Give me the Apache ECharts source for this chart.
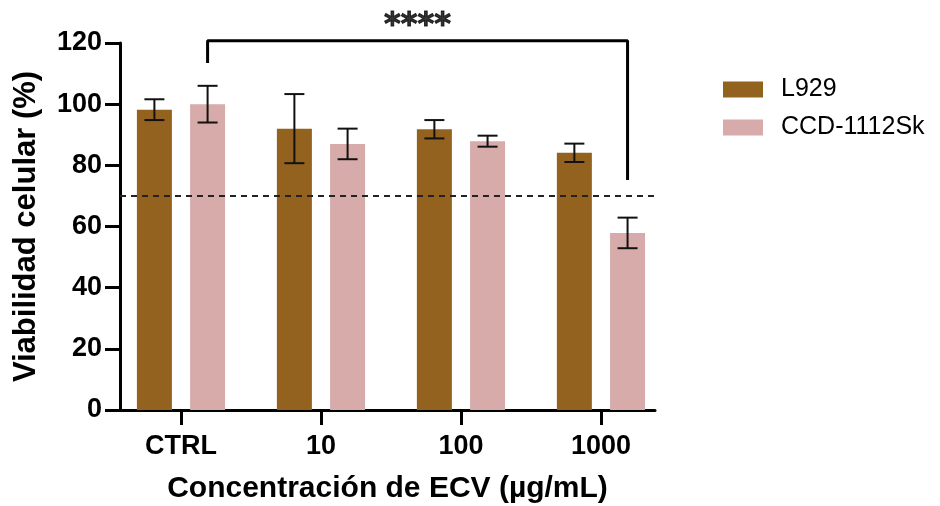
<!DOCTYPE html>
<html>
<head>
<meta charset="utf-8">
<script src="https://cdn.jsdelivr.net/npm/echarts@6/dist/echarts.min.js"></script>
<style>
  html, body { margin: 0; padding: 0; background: #fff; }
  #chart { width: 940px; height: 506px; }
</style>
</head>
<body>
<div id="chart"></div>
<script>
// categorias y valores
const categories = ['CTRL', '10', '100', '1000'];
const l929Mean = [98.2, 92.0, 91.8, 84.1];
const l929Err = [3.4, 11.3, 3.0, 3.0];
const ccdMean = [100.0, 87.0, 87.9, 57.9];
const ccdErr = [6.0, 5.0, 1.8, 5.0];
const threshold = 70;
// corchete de significancia: desde CTRL (CCD) hasta 1000 (CCD)
const bracketFrom = 0, bracketTo = 3;
const bracketY = [113.5, 120.7, 75.2];
const signif = '****';
const signifY = 125.5;

const brown = '#94621F';
const pink = '#D6ABAA';
const font = '"Liberation Sans", Arial, sans-serif';
const OFF = 0.19; // desplazamiento de cada barra respecto al centro de la categoria

let chart = echarts.init(document.getElementById('chart'));

function errorItem(params, api) {
  let x = api.value(0), y = api.value(1), e = api.value(2);
  let top = api.coord([x, y + e]);
  let bot = api.coord([x, y - e]);
  let hw = 10;
  let st = { stroke: '#111', lineWidth: 2 };
  return {
    type: 'group',
    children: [
      { type: 'line', shape: { x1: top[0], y1: top[1], x2: bot[0], y2: bot[1] }, style: st },
      { type: 'line', shape: { x1: top[0] - hw, y1: top[1], x2: top[0] + hw, y2: top[1] }, style: st },
      { type: 'line', shape: { x1: bot[0] - hw, y1: bot[1], x2: bot[0] + hw, y2: bot[1] }, style: st }
    ]
  };
}

let catIdx = categories.map((c, i) => i);

let option = {
  animation: false,
  textStyle: { fontFamily: font },
  grid: { left: 120, right: 285, top: 43, bottom: 96, outerBoundsMode: 'none', containLabel: false },
  legend: {
    data: ['L929', 'CCD-1112Sk'],
    orient: 'vertical',
    left: 718,
    top: 72,
    icon: 'rect',
    itemWidth: 40,
    itemHeight: 16,
    itemGap: 13,
    textStyle: { fontSize: 25, color: '#000', fontFamily: font, padding: [0, 0, 0, 13] }
  },
  xAxis: {
    type: 'value',
    min: -0.4357,
    max: 3.386,
    splitLine: { show: false },
    axisLine: { show: true, onZero: false, lineStyle: { color: '#000', width: 3 } },
    axisTick: { show: true, customValues: catIdx, length: 15, lineStyle: { color: '#000', width: 3 } },
    axisLabel: {
      customValues: catIdx,
      formatter: v => categories[Math.round(v)],
      color: '#000', fontSize: 27, fontWeight: 'bold', margin: 23, fontFamily: font
    },
    name: 'Concentración de ECV (µg/mL)',
    nameLocation: 'middle',
    nameGap: 64,
    nameTextStyle: { color: '#000', fontSize: 30, fontWeight: 'bold', fontFamily: font }
  },
  yAxis: {
    type: 'value',
    min: 0,
    max: 120,
    interval: 20,
    splitLine: { show: false },
    axisLine: { show: true, onZero: false, lineStyle: { color: '#000', width: 3 } },
    axisTick: { show: true, length: 15, lineStyle: { color: '#000', width: 3 } },
    axisLabel: { color: '#000', fontSize: 27, fontWeight: 'bold', margin: 18, fontFamily: font },
    name: 'Viabilidad celular (%)',
    nameLocation: 'middle',
    nameGap: 78,
    nameTextStyle: { color: '#000', fontSize: 31, fontWeight: 'bold', fontFamily: font }
  },
  series: [
    {
      name: 'L929',
      type: 'bar',
      barWidth: 35,
      barGap: '-100%',
      itemStyle: { color: brown },
      data: l929Mean.map((v, i) => [i - OFF, v]),
      markLine: {
        silent: true,
        symbol: 'none',
        label: { show: false },
        lineStyle: { color: '#222', type: [6, 5], width: 2 },
        data: [{ yAxis: threshold }]
      }
    },
    {
      name: 'CCD-1112Sk',
      type: 'bar',
      barWidth: 35,
      barGap: '-100%',
      itemStyle: { color: pink },
      data: ccdMean.map((v, i) => [i + OFF, v])
    },
    {
      type: 'custom',
      renderItem: errorItem,
      z: 5,
      data: l929Mean.map((v, i) => [i - OFF, v, l929Err[i]])
    },
    {
      type: 'custom',
      renderItem: errorItem,
      z: 5,
      data: ccdMean.map((v, i) => [i + OFF, v, ccdErr[i]])
    },
    {
      type: 'line',
      clip: false,
      symbol: 'none',
      lineStyle: { color: '#000', width: 3 },
      data: [
        [bracketFrom + OFF, bracketY[0]],
        [bracketFrom + OFF, bracketY[1]],
        [bracketTo + OFF, bracketY[1]],
        [bracketTo + OFF, bracketY[2]]
      ],
      z: 6
    },
    {
      type: 'scatter',
      clip: false,
      symbolSize: 1,
      itemStyle: { color: 'rgba(0,0,0,0)' },
      label: {
        show: true,
        position: 'inside',
        formatter: signif,
        color: '#000',
        fontSize: 32,
        fontWeight: 'bold',
        fontFamily: '"DejaVu Sans", sans-serif',
        textBorderColor: '#000',
        textBorderWidth: 1
      },
      data: [[(bracketFrom + bracketTo) / 2 + OFF, signifY]]
    }
  ]
};

chart.setOption(option);
</script>
</body>
</html>
